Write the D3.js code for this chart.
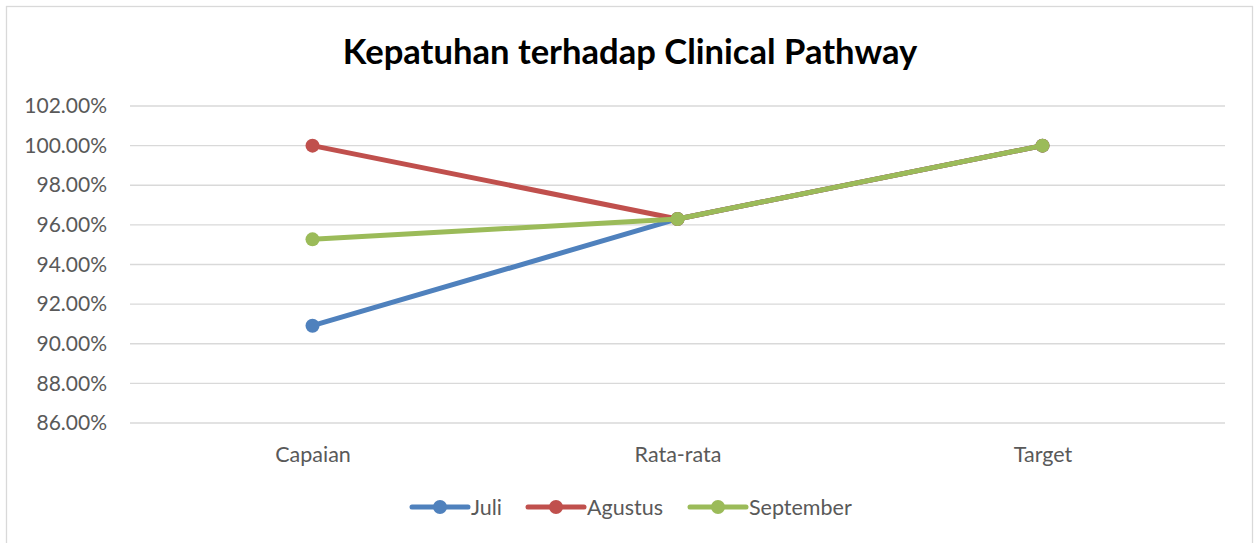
<!DOCTYPE html>
<html>
<head>
<meta charset="utf-8">
<script src="https://cdn.jsdelivr.net/npm/d3@7"></script>
<style>
body { margin: 0; background: #fff; }
svg { display: block; }
text { font-family: Lato, "Open Sans", sans-serif; }
</style>
</head>
<body>
<svg id="chart" width="1254" height="543"></svg>
<script>
// data
var categories = ["Capaian", "Rata-rata", "Target"];
var seriesNames = ["Juli", "Agustus", "September"];
var juli = [0.9091, 0.963, 1.0];
var agustus = [1.0, 0.963, 1.0];
var september = [0.9527, 0.963, 1.0];
var yTicks = [0.86, 0.88, 0.90, 0.92, 0.94, 0.96, 0.98, 1.00, 1.02];
var colors = ["#4F81BD", "#C0504D", "#9BBB59"];

var series = [juli, agustus, september];

var svg = d3.select("#chart");

// outer frame
svg.append("rect")
    .attr("x", 6.5).attr("y", 6.5)
    .attr("width", 1246).attr("height", 545)
    .attr("fill", "none")
    .attr("stroke", "#D9D9D9")
    .attr("stroke-width", 1.3);

var plotLeft = 130, plotRight = 1225, plotTop = 106, plotBottom = 423;

var x = d3.scalePoint()
    .domain(categories)
    .range([plotLeft, plotRight])
    .padding(0.5);

var y = d3.scaleLinear()
    .domain([0.86, 1.02])
    .range([plotBottom, plotTop]);

// title
svg.append("text")
    .attr("x", 630).attr("y", 64)
    .attr("text-anchor", "middle")
    .attr("font-size", 34.6)
    .attr("font-weight", "bold")
    .attr("fill", "#000")
    .text("Kepatuhan terhadap Clinical Pathway");

// gridlines
svg.append("g").selectAll("line")
    .data(yTicks)
    .enter()
    .append("line")
    .attr("x1", plotLeft).attr("x2", plotRight)
    .attr("y1", function (d) { return y(d); })
    .attr("y2", function (d) { return y(d); })
    .attr("stroke", "#D9D9D9")
    .attr("stroke-width", 1.3);

// y axis labels
var yAxis = d3.axisLeft(y)
    .tickValues(yTicks)
    .tickFormat(d3.format(".2%"))
    .tickSize(0)
    .tickPadding(23);

var gy = svg.append("g")
    .attr("transform", "translate(" + plotLeft + ",0)")
    .call(yAxis);
gy.select(".domain").remove();
gy.selectAll("text")
    .attr("font-size", 21)
    .attr("fill", "#595959")
    .style("font-family", "Lato, 'Open Sans', sans-serif");

// x axis labels
var xAxis = d3.axisBottom(x).tickSize(0).tickPadding(24);
var gx = svg.append("g")
    .attr("transform", "translate(0," + plotBottom + ")")
    .call(xAxis);
gx.select(".domain").remove();
gx.selectAll("text")
    .attr("font-size", 21.5)
    .attr("fill", "#595959")
    .style("font-family", "Lato, 'Open Sans', sans-serif");

var line = d3.line()
    .x(function (d, i) { return x(categories[i]); })
    .y(function (d) { return y(d); });

series.forEach(function (s, k) {
    svg.append("path")
        .datum(s)
        .attr("d", line)
        .attr("fill", "none")
        .attr("stroke", colors[k])
        .attr("stroke-width", 5)
        .attr("stroke-linejoin", "round");
    svg.append("g").selectAll("circle")
        .data(s)
        .enter()
        .append("circle")
        .attr("cx", function (d, i) { return x(categories[i]); })
        .attr("cy", function (d) { return y(d); })
        .attr("r", 7)
        .attr("fill", colors[k]);
});

// legend
var legendX = [412, 528, 690];
var legend = svg.append("g").selectAll("g")
    .data(seriesNames)
    .enter()
    .append("g")
    .attr("transform", function (d, i) { return "translate(" + legendX[i] + ",507)"; });

legend.append("line")
    .attr("x1", 0).attr("x2", 56)
    .attr("stroke", function (d, i) { return colors[i]; })
    .attr("stroke-width", 5)
    .attr("stroke-linecap", "round");
legend.append("circle")
    .attr("cx", 28).attr("r", 7)
    .attr("fill", function (d, i) { return colors[i]; });
legend.append("text")
    .attr("x", 59).attr("y", 7.5)
    .attr("font-size", 21.5)
    .attr("fill", "#595959")
    .text(function (d) { return d; });
</script>
</body>
</html>
